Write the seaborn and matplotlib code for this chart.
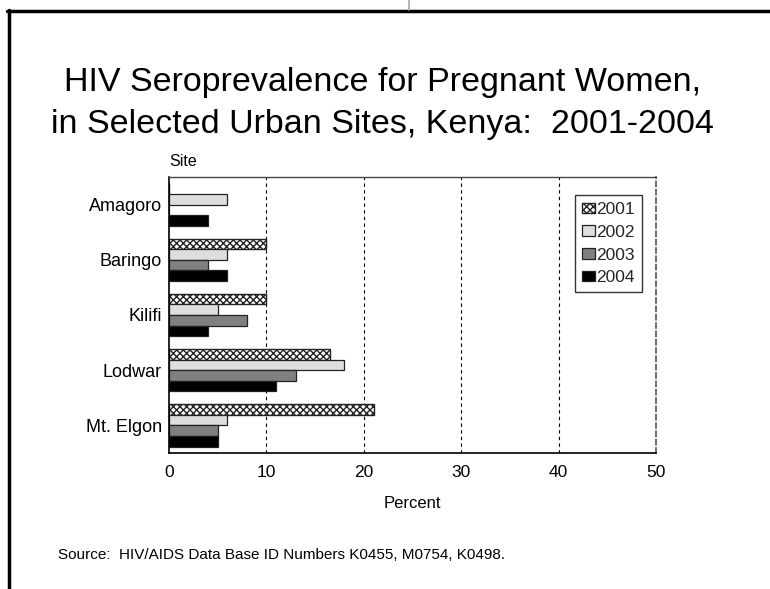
import matplotlib
matplotlib.use("Agg")
import matplotlib.pyplot as plt
from matplotlib.lines import Line2D
import seaborn as sns
import pandas as pd

sites = ["Amagoro", "Baringo", "Kilifi", "Lodwar", "Mt. Elgon"]
years = ["2001", "2002", "2003", "2004"]
prev_2001 = [0, 10, 10, 16.5, 21]
prev_2002 = [6, 6, 5, 18, 6]
prev_2003 = [0, 4, 8, 13, 5]
prev_2004 = [4, 6, 4, 11, 5]
x_ticks = [0, 10, 20, 30, 40, 50]
title_lines = ["HIV Seroprevalence for Pregnant Women,",
               "in Selected Urban Sites, Kenya:  2001-2004"]

series = {"2001": prev_2001, "2002": prev_2002, "2003": prev_2003, "2004": prev_2004}
df = pd.DataFrame(
    [(s, y, v) for y in years for s, v in zip(sites, series[y])],
    columns=["Site", "Year", "Percent"],
)

sns.set_theme(style="white")
plt.rcParams["font.family"] = ["Liberation Sans", "DejaVu Sans"]

fig = plt.figure(figsize=(7.7, 5.89), dpi=100)
ax = fig.add_axes([0.2195, 0.2309, 0.6325, 0.4686])

fills = {"2001": "white", "2002": "#dedede", "2003": "#808080", "2004": "black"}
sns.barplot(data=df, y="Site", x="Percent", hue="Year", order=sites,
            hue_order=years, palette=fills, orient="h", width=0.77,
            legend=False, ax=ax, errorbar=None)

for year, cont in zip(years, ax.containers):
    for p in cont.patches:
        p.set_edgecolor("#222222")
        p.set_linewidth(0.9)
        if year == "2001":
            p.set_hatch("xxxxx")
            p.set_linewidth(1.0)

ax.set_xlim(0, 50)
ax.set_xticks(x_ticks)
ax.set_xticklabels([str(t) for t in x_ticks], fontsize=12.5)
ax.tick_params(axis="both", length=0, colors="black")
ax.tick_params(axis="x", pad=9)
ax.tick_params(axis="y", pad=5, labelsize=13)
for t in ax.get_yticklabels():
    t.set_color("black")

for v in x_ticks[1:-1]:
    ax.axvline(v, color="black", linestyle=(0, (3, 3)), linewidth=0.8, zorder=0)

ax.spines["left"].set_color("black")
ax.spines["left"].set_linewidth(1.2)
ax.spines["bottom"].set_color("black")
ax.spines["bottom"].set_linewidth(1.2)
ax.spines["top"].set_color("#444444")
ax.spines["top"].set_linewidth(1.0)
ax.spines["right"].set_color("#555555")
ax.spines["right"].set_linewidth(1.2)
ax.spines["right"].set_linestyle((0, (3, 2)))

ax.set_xlabel("Percent", fontsize=12, color="black")
ax.xaxis.set_label_coords(0.5, -0.155)
ax.set_ylabel("")
ax.text(0.0, 1.03, "Site", transform=ax.transAxes, fontsize=11.5,
        ha="left", va="bottom", color="black")

leg = ax.legend(ax.containers, years, loc="upper left",
                bbox_to_anchor=(0.834, 0.935), fontsize=12.5, frameon=True,
                fancybox=False, edgecolor="#333333", framealpha=1,
                handlelength=0.75, handleheight=0.55, handletextpad=0.05,
                labelspacing=0.45, borderpad=0.4, borderaxespad=0)
leg.get_frame().set_linewidth(1.0)

# two-line title
for line, y_px in zip(title_lines, [82, 125]):
    fig.text(0.497, 1 - y_px / 589, line, ha="center", va="center",
             fontsize=24.5, color="black")
fig.text(0.075, 1 - 555 / 589,
         "Source:  HIV/AIDS Data Base ID Numbers K0455, M0754, K0498.",
         ha="left", va="center", fontsize=11, color="black")

# page frame
fig.add_artist(Line2D([7 / 770, 1.0], [1 - 11 / 589, 1 - 11 / 589],
                      transform=fig.transFigure, color="black", linewidth=2.5))
fig.add_artist(Line2D([8.5 / 770, 8.5 / 770], [0, 1 - 10 / 589],
                      transform=fig.transFigure, color="black", linewidth=2.5))
fig.add_artist(Line2D([408.5 / 770, 408.5 / 770], [1 - 10 / 589, 1.0],
                      transform=fig.transFigure, color="#aaaaaa", linewidth=1.2))

fig.savefig("out.png", dpi=100, facecolor="white")
